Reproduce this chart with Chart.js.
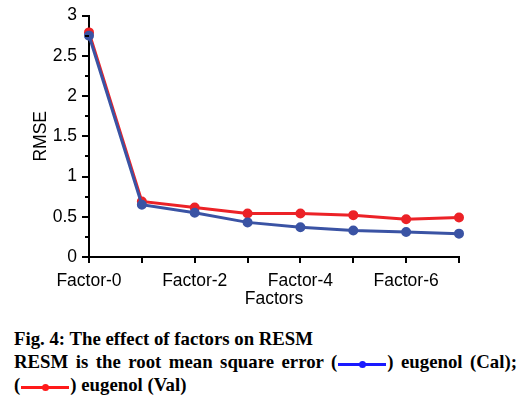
<!DOCTYPE html>
<html><head><meta charset="utf-8">
<script src="https://cdn.jsdelivr.net/npm/chart.js@4"></script>
<style>
html,body{margin:0;padding:0;background:#fff;}
#wrap{position:absolute;left:0;top:0;width:521px;height:310px;}
#cap{position:absolute;left:14px;top:327px;width:503px;font-family:"Liberation Serif","Times New Roman",serif;font-weight:bold;font-size:18.8px;line-height:23px;color:#000;}
.j{text-align:justify;text-align-last:justify;}
.sym{display:inline-block;width:50px;height:10px;position:relative;vertical-align:middle;}
.sym i{position:absolute;left:1px;right:1px;top:4px;height:3px;}
.sym b{position:absolute;left:22px;top:2px;width:7px;height:7px;border-radius:50%;}
</style></head>
<body>
<div id="wrap"><canvas id="c" width="521" height="310"></canvas></div>
<div id="cap">
<div>Fig. 4: The effect of factors on RESM</div>
<div class="j">RESM is the root mean square error (<span class="sym"><i style="background:#1a1aff"></i><b style="background:#1a1aff"></b></span>) eugenol (Cal);</div>
<div>(<span class="sym"><i style="background:#ff1a1a"></i><b style="background:#ff1a1a"></b></span>) eugenol (Val)</div>
</div>
<script>
const categories = ["Factor-0","Factor-1","Factor-2","Factor-3","Factor-4","Factor-5","Factor-6","Factor-7"];
const calValues = [2.75, 0.65, 0.55, 0.43, 0.37, 0.33, 0.31, 0.29];
const valValues = [2.79, 0.69, 0.615, 0.54, 0.54, 0.52, 0.47, 0.49];
const yMajorTicks = [0, 0.5, 1, 1.5, 2, 2.5, 3];
const yMinorTicks = [0.25, 0.75, 1.25, 1.75, 2.25, 2.75];

const minorTickPlugin = {
  id: 'minorTicks',
  afterDraw(chart) {
    const y = chart.scales.y, ctx = chart.ctx;
    ctx.save();
    ctx.strokeStyle = '#000'; ctx.lineWidth = 2;
    yMinorTicks.forEach(v => {
      const py = Math.round(y.getPixelForValue(v));
      ctx.beginPath(); ctx.moveTo(y.right - 4, py); ctx.lineTo(y.right, py); ctx.stroke();
    });
    ctx.restore();
  }
};

const F = {family: 'Liberation Sans, Arial', size: 17.5};

new Chart(document.getElementById('c'), {
  type: 'line',
  data: {
    labels: categories,
    datasets: [
      {label: 'eugenol (Cal)', data: calValues, borderColor: '#3a53a4', backgroundColor: '#3a53a4', borderWidth: 3, pointRadius: 3.5, pointHoverRadius: 3.5, tension: 0},
      {label: 'eugenol (Val)', data: valValues, borderColor: '#ec2227', backgroundColor: '#ec2227', borderWidth: 3, pointRadius: 3.5, pointHoverRadius: 3.5, tension: 0}
    ]
  },
  options: {
    responsive: false, animation: false,
    layout: {padding: {left: 0, right: 62, top: 13, bottom: 0}},
    plugins: {legend: {display: false}, tooltip: {enabled: false}},
    scales: {
      x: {
        offset: false,
        border: {color: '#000', width: 2},
        grid: {display: true, drawOnChartArea: false, drawTicks: true, tickLength: 6, color: '#000', lineWidth: 2},
        ticks: {color: '#000', font: F, padding: 8, maxRotation: 0, autoSkip: false,
          callback: function(v, i) { return i % 2 === 0 ? categories[i] : ''; }},
        title: {display: true, text: 'Factors', color: '#000', font: F, padding: {top: 0, bottom: 0}},
        afterFit: s => { s.height = 53; }
      },
      y: {
        min: 0, max: 3,
        border: {color: '#000', width: 2},
        grid: {display: true, drawOnChartArea: false, drawTicks: true, tickLength: 7, color: '#000', lineWidth: 2},
        afterBuildTicks: s => { s.ticks = yMajorTicks.map(v => ({value: v})); },
        ticks: {color: '#000', font: F, padding: 5,
          callback: v => String(v)},
        title: {display: true, text: 'RMSE', color: '#000', font: F, padding: {top: 31, bottom: 0}},
        afterFit: s => { s.width = 89; }
      }
    }
  },
  plugins: [minorTickPlugin]
});
</script>
</body></html>
